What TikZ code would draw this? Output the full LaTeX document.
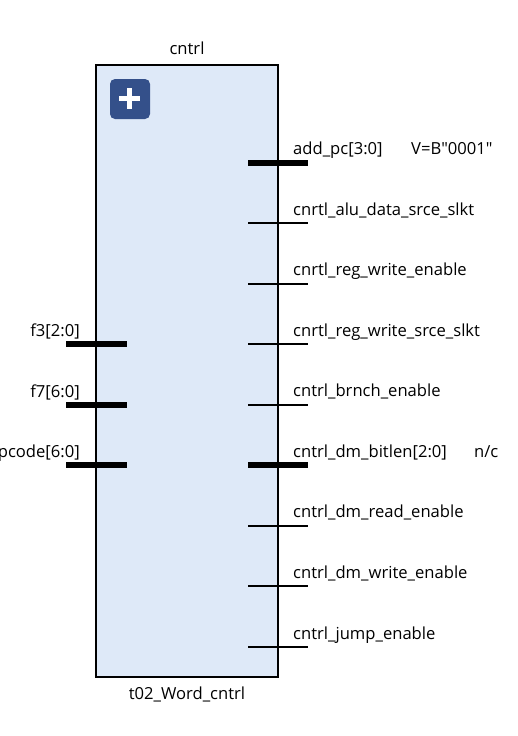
\documentclass[tikz,border=0pt]{standalone}
\usepackage{fontspec}
\setmainfont[Ligatures=TeXOff]{Open Sans}
\usepackage{tikz}
\usetikzlibrary{positioning}
\usepackage{xcolor}
\definecolor{blockfill}{HTML}{DEE9F8}
\definecolor{iconfill}{HTML}{34508A}

\begin{document}
\begin{tikzpicture}[
  x=1pt,y=-1pt,
  font=\fontsize{16.6}{20}\selectfont,
  block/.style={draw=black,line width=2pt,fill=blockfill,minimum width=182pt,minimum height=612pt,inner sep=0pt,outer sep=0pt},
  icon/.style={fill=iconfill,rounded corners=5pt,minimum width=40pt,minimum height=40pt,inner sep=0pt,outer sep=0pt},
  wire/.style={draw=black,line width=2pt},
  bus/.style={draw=black,line width=6pt},
  pinright/.style={anchor=base west,inner sep=0pt},
  pinleft/.style={anchor=base east,inner sep=0pt},
  caption/.style={anchor=base,inner sep=0pt}]
  \useasboundingbox (0,0) rectangle (518,736);
  \node[block] (cntrl) at (187,371) {};
  \node[caption] (title) at (187,54) {cntrl};
  \node[caption] (type) at (187,699) {t02\_Word\_cntrl};
  % expand icon
  \node[icon] (plus) at (130,99) {};
  \coordinate (plusl) at (119,98.5); \coordinate (plusr) at (140,98.5);
  \coordinate (plust) at (129.5,88); \coordinate (plusb) at (129.5,109);
  \draw[white,line width=5.5pt] (plusl)--(plusr); \draw[white,line width=5.5pt] (plust)--(plusb);
  % inputs
  \coordinate (f3a) at (66,344); \coordinate (f3b) at (127,344);
  \coordinate (f7a) at (66,405); \coordinate (f7b) at (127,405);
  \coordinate (opa) at (66,465); \coordinate (opb) at (127,465);
  \draw[bus] (f3a)--(f3b); \draw[bus] (f7a)--(f7b); \draw[bus] (opa)--(opb);
  \node[pinleft] (f3) at (80,336) {f3[2:0]};
  \node[pinleft] (f7) at (80,397) {f7[6:0]};
  \node[pinleft] (opcode) at (80,457) {opcode[6:0]};
  % outputs
  \coordinate (r1a) at (248,162.5); \coordinate (r1b) at (308,162.5);
  \coordinate (r2a) at (248,223); \coordinate (r2b) at (308,223);
  \coordinate (r3a) at (248,284); \coordinate (r3b) at (308,284);
  \coordinate (r4a) at (248,344); \coordinate (r4b) at (308,344);
  \coordinate (r5a) at (248,405); \coordinate (r5b) at (308,405);
  \coordinate (r6a) at (248,465); \coordinate (r6b) at (308,465);
  \coordinate (r7a) at (248,526); \coordinate (r7b) at (308,526);
  \coordinate (r8a) at (248,586); \coordinate (r8b) at (308,586);
  \coordinate (r9a) at (248,647); \coordinate (r9b) at (308,647);
  \draw[bus] (r1a)--(r1b); \draw[wire] (r2a)--(r2b); \draw[wire] (r3a)--(r3b);
  \draw[wire] (r4a)--(r4b); \draw[wire] (r5a)--(r5b); \draw[bus] (r6a)--(r6b);
  \draw[wire] (r7a)--(r7b); \draw[wire] (r8a)--(r8b); \draw[wire] (r9a)--(r9b);
  \node[pinright] (addpc) at (293,154) {add\_pc[3:0]};
  \node[pinright] (addval) at (411,154) {V=B"0001"};
  \node[pinright] (alu) at (293,215) {cnrtl\_alu\_data\_srce\_slkt};
  \node[pinright] (regw) at (293,275) {cnrtl\_reg\_write\_enable};
  \node[pinright] (regs) at (293,336) {cnrtl\_reg\_write\_srce\_slkt};
  \node[pinright] (brnch) at (293,396) {cntrl\_brnch\_enable};
  \node[pinright] (bitlen) at (293,457) {cntrl\_dm\_bitlen[2:0]};
  \node[pinright] (nc) at (474,457) {n/c};
  \node[pinright] (dmr) at (293,517) {cntrl\_dm\_read\_enable};
  \node[pinright] (dmw) at (293,578) {cntrl\_dm\_write\_enable};
  \node[pinright] (jump) at (293,639) {cntrl\_jump\_enable};
\end{tikzpicture}
\end{document}
